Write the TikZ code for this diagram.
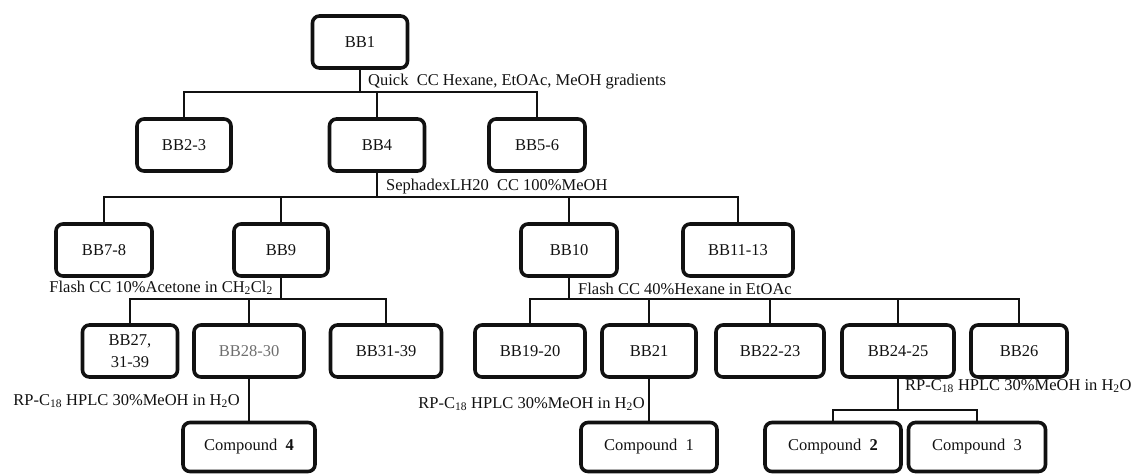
\documentclass[tikz,border=0pt]{standalone}
\usepackage{fontspec}
\setmainfont{Liberation Serif}
\usetikzlibrary{positioning}
\definecolor{Ink}{HTML}{111111}
\definecolor{InkSoft}{HTML}{6E6E6E}
\tikzset{
  fracbox/.style={draw=Ink,line width=3.6pt,rounded corners=7pt,
    minimum height=52pt,inner sep=0pt,text=Ink,align=center,
    font=\fontsize{16.5}{22}\selectfont},
  compbox/.style={fracbox,minimum height=49pt},
  link/.style={draw=Ink,line width=1.2pt},
  solvent/.style={inner sep=0pt,text=Ink,font=\fontsize{16.5}{20}\selectfont},
}

\begin{document}
\begin{tikzpicture}[x=1pt,y=-1pt]
        \useasboundingbox (0,0) rectangle (1140,475);
        \node[fracbox,minimum width=95pt] (bb1) at (360,42) {BB1};
        \foreach \nm/\xx/\w/\lab in {bb23/184/94/{BB2-3}, bb4/377/95/{BB4},
                                     bb56/537/96/{BB5-6}} {
          \node[fracbox,minimum width=\w pt] (\nm) at (\xx,145) {\lab};
        }
        \foreach \nm/\xx/\w/\lab in {bb78/104/96/{BB7-8}, bb9/281/94/{BB9},
                                     bb10/569/96/{BB10}, bb1113/738/110/{BB11-13}} {
          \node[fracbox,minimum width=\w pt] (\nm) at (\xx,250) {\lab};
        }
        \foreach \nm/\xx/\w/\lab in {bb27/130/95/{BB27,\\31-39},
                                     bb2830/249/110/{\textcolor{InkSoft}{BB28-30}},
                                     bb3139/386/111/{BB31-39}, bb1920/530/110/{BB19-20},
                                     bb21/649/94/{BB21}, bb2223/770/108/{BB22-23},
                                     bb2425/898/112/{BB24-25}, bb26/1019/96/{BB26}} {
          \node[fracbox,minimum width=\w pt] (\nm) at (\xx,351) {\lab};
        }
        \foreach \nm/\xx/\w/\lab in {c4/249/132/{Compound~~\textbf{4}},
                                     c1/649/136/{Compound~~1},
                                     c2/833/136/{Compound~~\textbf{2}},
                                     c3/977/137/{Compound~~3}} {
          \node[compbox,minimum width=\w pt] (\nm) at (\xx,447) {\lab};
        }
        % branch points
        \coordinate (j1) at (360,92);
        \coordinate (j2) at (377,197);
        \coordinate (j3) at (281,299);
        \coordinate (j4) at (569,299);
        \coordinate (j5) at (898,410);
        \draw[link] (bb1) -- (j1);
        \draw[link] (bb23.north) |- (j1) -| (bb56.north);
        \draw[link] (bb4) -- (bb4 |- j1);
        \draw[link] (bb4) -- (j2);
        \draw[link] (bb78.north) |- (j2) -| (bb1113.north);
        \foreach \nm in {bb9,bb10} \draw[link] (\nm) -- (\nm |- j2);
        \draw[link] (bb9) -- (j3);
        \draw[link] (bb27.north) |- (j3) -| (bb3139.north);
        \draw[link] (bb2830) -- (bb2830 |- j3);
        \draw[link] (bb10) -- (j4);
        \draw[link] (bb1920.north) |- (j4) -| (bb26.north);
        \foreach \nm in {bb21,bb2223,bb2425} \draw[link] (\nm) -- (\nm |- j4);
        \draw[link] (bb2830) -- (c4);
        \draw[link] (bb21) -- (c1);
        \draw[link] (bb2425) -- (j5);
        \draw[link] (c2.north) |- (j5) -| (c3.north);
        % solvent systems
        \node[solvent,anchor=base west] (lquick) at (368,85)
              {Quick\ \ CC Hexane, EtOAc, MeOH gradients};
        \node[solvent,anchor=base west] (lsep) at (386,190)
              {SephadexLH20\ \ CC 100\%MeOH};
        \node[solvent,anchor=base east] (lflash1) at (273,292)
              {Flash CC 10\%Acetone in CH\textsubscript{2}Cl\textsubscript{2}};
        \node[solvent,anchor=base west] (lflash2) at (578,294)
              {Flash CC 40\%Hexane in EtOAc};
        \node[solvent,anchor=base east] (lrp1) at (240,405)
              {RP-C\textsubscript{18} HPLC 30\%MeOH in H\textsubscript{2}O};
        \node[solvent,anchor=base east] (lrp2) at (645,408)
              {RP-C\textsubscript{18} HPLC 30\%MeOH in H\textsubscript{2}O};
        \node[solvent,anchor=base west] (lrp3) at (905,390)
              {RP-C\textsubscript{18} HPLC 30\%MeOH in H\textsubscript{2}O};
      \end{tikzpicture}
\end{document}
